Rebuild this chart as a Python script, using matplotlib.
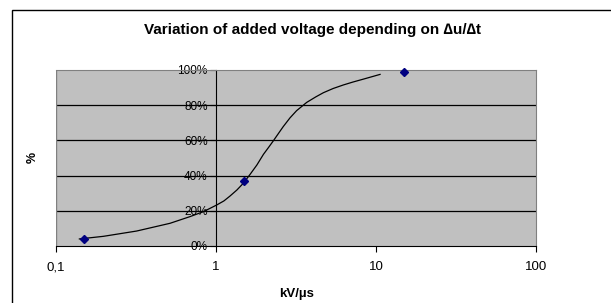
import matplotlib
matplotlib.use("Agg")
import matplotlib.pyplot as plt
from matplotlib.patches import Rectangle

plt.rcParams['font.family'] = ['Liberation Sans', 'DejaVu Sans']

# measured points
rate = [0.15, 1.5, 15]
added = [3.8, 37.2, 98.7]

# trend curve
curve_x = [0.14, 0.198, 0.319, 0.516, 0.688, 0.834, 1.01, 1.12, 1.22, 1.35, 1.48,
           1.63, 1.80, 1.98, 2.13, 2.28, 2.45, 2.63, 2.90, 3.19, 3.69, 4.20,
           4.69, 5.40, 6.25, 7.20, 8.33, 10.6]
curve_y = [4.0, 5.5, 8.5, 12.9, 16.7, 19.5, 23.3, 25.6, 28.3, 31.8, 35.6,
           40.6, 46.0, 52.1, 56.0, 59.7, 63.8, 67.8, 72.8, 76.9, 81.6, 84.7,
           87.1, 89.5, 91.5, 93.2, 94.8, 97.5]

xticks = [0.1, 1, 10, 100]
xtick_labels = ['0,1', '1', '10', '100']
yticks = [0, 20, 40, 60, 80, 100]
ytick_labels = ['0%', '20%', '40%', '60%', '80%', '100%']

fig = plt.figure(figsize=(6.11, 3.03), dpi=100)
ax = fig.add_axes([56 / 611, 57 / 303, 480 / 611, 176 / 303])
ax.set_facecolor('#c0c0c0')

ax.set_xscale('log')
ax.set_xlim(0.1, 100)
ax.set_ylim(0, 100)

for v in yticks[1:-1]:
    ax.axhline(v, color='black', linewidth=0.9, zorder=1)
ax.axvline(0.1, color='#808080', linewidth=1.0, zorder=1)

ax.plot(curve_x, curve_y, color='black', linewidth=0.9, zorder=3)
ax.plot(rate, added, linestyle='none', marker='D', markersize=4,
        color='#000080', zorder=4, clip_on=False)

ax.spines['left'].set_position(('data', 1))
ax.spines['left'].set_color('black')
ax.spines['bottom'].set_color('black')
ax.spines['top'].set_color('#808080')
ax.spines['right'].set_color('#808080')

ax.set_xticks(xticks)
ax.set_xticklabels(xtick_labels)
ax.xaxis.set_minor_locator(matplotlib.ticker.NullLocator())
ax.set_yticks(yticks)
ax.set_yticklabels(ytick_labels)
ax.tick_params(axis='both', direction='out', length=4, width=0.8,
               labelsize=8.5, colors='black')
ax.tick_params(axis='x', pad=7, labelsize=9.5)
ax.tick_params(axis='y', pad=2)

fig.text(312 / 611, 1 - 30 / 303, 'Variation of added voltage depending on \u2206u/\u2206t',
         ha='center', va='center', fontsize=11, fontweight='bold')
fig.text(297 / 611, 1 - 294 / 303, 'kV/\u00b5s', ha='center', va='center',
         fontsize=9.5, fontweight='bold')
fig.text(33 / 611, 1 - 157 / 303, '%', ha='center', va='center', rotation=90,
         fontsize=9, fontweight='bold')

fig.patches.append(Rectangle((11.5 / 611, -0.1), 1.0, 1.1 - 9.5 / 303,
                             transform=fig.transFigure, fill=False,
                             edgecolor='black', linewidth=1.0))

fig.savefig('out.png', dpi=100)
